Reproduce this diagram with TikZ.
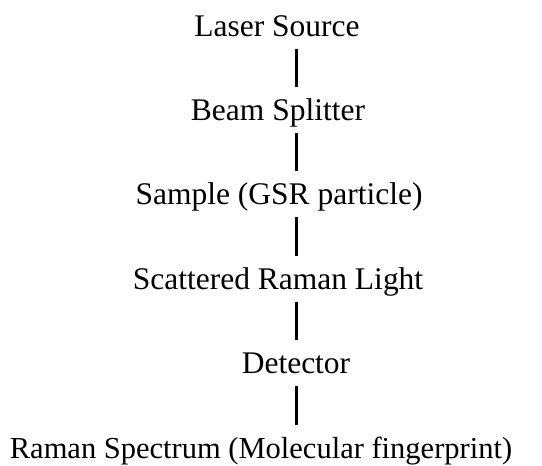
\documentclass[tikz,border=0pt]{standalone}
\usepackage{fontspec}
\setmainfont{Liberation Serif}
\begin{document}
\begin{tikzpicture}[x=1pt,y=-1pt,
  stage/.style={font=\fontsize{31.5}{36}\selectfont, anchor=base,
    inner sep=0pt, outer ysep=12.5pt, text height=20.9pt, text depth=0pt},
  link/.style={line width=2.2pt, black}]
  \useasboundingbox (0,0) rectangle (542,466);
  % vertical axis on which the links sit
  \coordinate (axis) at (296.5,0);
  \node[stage] (s1) at (277,36)    {Laser Source};
  \node[stage] (s2) at (278,120.4) {Beam Splitter};
  \node[stage] (s3) at (279,204.8) {Sample (GSR particle)};
  \node[stage] (s4) at (278,289.2) {Scattered Raman Light};
  \node[stage] (s5) at (296,373.6) {Detector};
  \node[stage, font=\fontsize{30.5}{36}\selectfont] (s6) at (261,458)
    {Raman Spectrum (Molecular fingerprint)};
  \foreach \a/\b in {s1/s2,s2/s3,s3/s4,s4/s5,s5/s6}
    \draw[link] (\a.south -| axis) -- (\b.north -| axis);
\end{tikzpicture}
\end{document}
